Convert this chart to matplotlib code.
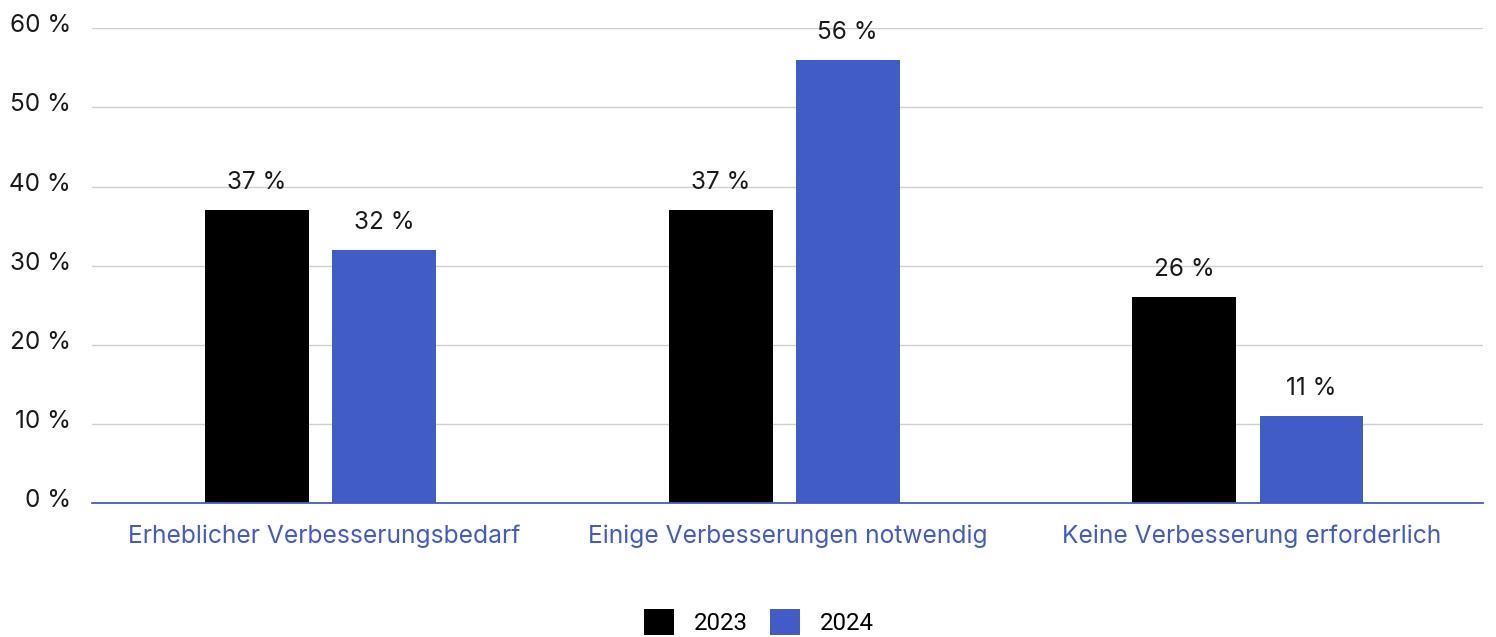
import matplotlib
matplotlib.use("Agg")
import matplotlib.pyplot as plt
from matplotlib.patches import Patch
from matplotlib.transforms import ScaledTranslation
import numpy as np

categories = ["Erheblicher Verbesserungsbedarf",
              "Einige Verbesserungen notwendig",
              "Keine Verbesserung erforderlich"]
series_names = ["2023", "2024"]
values_2023 = [37, 37, 26]
values_2024 = [32, 56, 11]
y_ticks = [0, 10, 20, 30, 40, 50, 60]

BLACK = "#000000"
BLUE = "#425CC7"
GRID = "#CFCFCF"
TEXT = "#1a1a1a"

plt.rcParams["font.family"] = ["Inter", "DejaVu Sans"]

fig = plt.figure(figsize=(14.96, 6.37), dpi=100)
ax = fig.add_axes([0.0615, 0.2099, 0.9298, 0.7457])

x = np.arange(len(categories)) - 0.007
width = 0.224
offset = 0.137

bars1 = ax.bar(x - offset, values_2023, width, color=BLACK, zorder=3)
bars2 = ax.bar(x + offset, values_2024, width, color=BLUE, zorder=3)

for bars, vals in ((bars1, values_2023), (bars2, values_2024)):
    for b, v in zip(bars, vals):
        ax.annotate(f"{v} %", (b.get_x() + b.get_width() / 2, v),
                    xytext=(0, 16), textcoords="offset pixels",
                    ha="center", va="bottom", fontsize=17.5, color=TEXT)

ax.set_xlim(-0.5, len(categories) - 0.5)
ax.set_ylim(0, 60)
ax.set_yticks(y_ticks)
ax.set_yticklabels([f"{t} %" for t in y_ticks], fontsize=17.5, color=TEXT)
ax.set_xticks(np.arange(len(categories)))
ax.set_xticklabels(categories, fontsize=17.7, color=BLUE)
ax.tick_params(axis="y", length=0, pad=15)
ax.tick_params(axis="x", length=0, pad=15)

# y tick labels sit slightly above their gridlines
lift = ScaledTranslation(0, 5 / 100, fig.dpi_scale_trans)
for lbl in ax.get_yticklabels():
    lbl.set_transform(lbl.get_transform() + lift)

ax.grid(axis="y", color=GRID, linewidth=1, zorder=0)
for s in ("top", "right", "left"):
    ax.spines[s].set_visible(False)
ax.spines["bottom"].set_color(BLUE)
ax.spines["bottom"].set_linewidth(1.3)
ax.spines["bottom"].set_zorder(4)

handles = [Patch(facecolor=BLACK, label=series_names[0]),
           Patch(facecolor=BLUE, label=series_names[1])]
fig.legend(handles=handles, loc="center", bbox_to_anchor=(759 / 1496, 15 / 637),
           ncol=2, frameon=False,
           prop={"family": ["Roboto", "DejaVu Sans"], "size": 17.3},
           handlelength=1.25, handleheight=1.35, handletextpad=0.85,
           columnspacing=0.9)

fig.savefig("out.png", dpi=100, facecolor="white")
